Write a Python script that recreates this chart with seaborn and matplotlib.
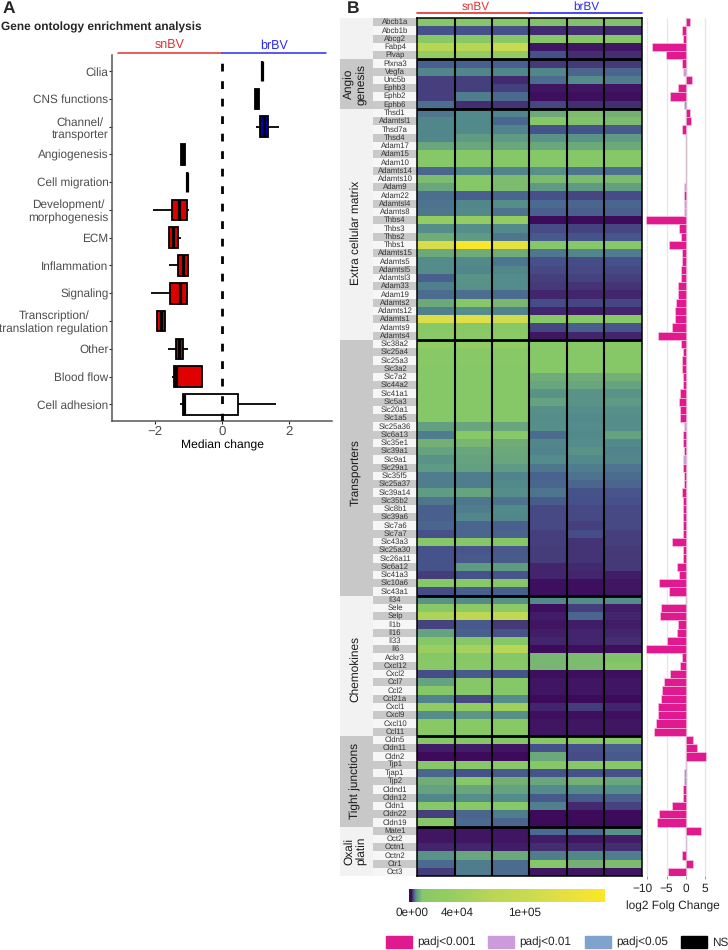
#!/usr/bin/env python3

from matplotlib.colors import LinearSegmentedColormap
from matplotlib.patches import Patch
from matplotlib.transforms import ScaledTranslation
import matplotlib
matplotlib.use('Agg')
import matplotlib.pyplot as plt
import pandas as pd
import seaborn as sns

WIDTH, HEIGHT = 728, 950

# Panel A: median change per ontology term
TERMS = ['Cilia', 'CNS functions', 'Channel/\ntransporter', 'Angiogenesis', 'Cell migration',
         'Development/\nmorphogenesis', 'ECM', 'Inflammation', 'Signaling',
         'Transcription/\ntranslation regulation', 'Other', 'Blood flow', 'Cell adhesion']
WHISK_LO = [1.20, 1.00, 1.03, -1.24, -1.06, -2.07, -1.58, -1.60, -2.13, -1.95, -1.62, -1.50, -1.27]
Q1 = [1.20, 1.00, 1.13, -1.24, -1.06, -1.51, -1.58, -1.31, -1.55, -1.95, -1.37, -1.44, -1.18]
MEDIAN = [1.20, 1.06, 1.27, -1.18, -1.06, -1.28, -1.47, -1.17, -1.27, -1.83, -1.28, -1.39, -1.14]
Q3 = [1.20, 1.12, 1.38, -1.12, -1.06, -1.05, -1.31, -1.03, -1.05, -1.72, -1.17, -0.60, 0.48]
WHISK_HI = [1.20, 1.12, 1.70, -1.12, -1.06, -1.00, -1.22, -1.00, -1.02, -1.72, -1.02, -0.60, 1.61]
BOX_COLORS = ['black', 'black', '#0000bb', 'black', 'black', '#dd0000', '#dd0000', '#dd0000',
              '#dd0000', '#dd0000', '#dd0000', '#e00000', 'white']

# Panel B: genes by group, expression (thousands) for snBV x3 then brBV x3, log2 fold change
GROUP_LABELS = ['', 'Angio\ngenesis', 'Extra cellular matrix', 'Transporters', 'Chemokines',
                'Tight junctions', 'Oxali\nplatin']
GROUP_LABEL_SHIFT = [0, 0, 1, 0.6, 0.4, 0, 0]

BASE_GENES = ['Abcb1a', 'Abcb1b', 'Abcg2', 'Fabp4', 'Plvap']
BASE_EXPR = [
    [9, 9, 9, 8.5, 8.5, 8.5], [1.5, 1.5, 1.5, 0.5, 0.6, 0.5], [12, 12, 12, 9, 9, 9],
    [70, 70, 100, 0.2, 0.2, 0.2], [30, 30, 30, 1.5, 0.6, 0.6],
]
BASE_LFC = [1.0, -0.9, -0.6, -8.7, -5.1]

ANGIO_GENES = ['Plxna3', 'Vegfa', 'Unc5b', 'Ephb3', 'Ephb2', 'Ephb6']
ANGIO_EXPR = [
    [2, 2, 2, 0.8, 0.8, 0.8], [3.3, 3.3, 3.3, 3.3, 2.2, 2.2], [1, 1, 0.5, 2.4, 3.5, 3],
    [1, 1, 1, 0.2, 0.2, 0.2], [1, 3, 2.3, 0.1, 0.1, 0.1], [2.5, 0.6, 0.7, 1.2, 0.6, 0.6],
]
ANGIO_LFC = [-1.0, -0.6, 1.6, -2.0, -4.1, -0.5]

ECM_GENES = ['Thsd1', 'Adamtsl1', 'Thsd7a', 'Thsd4', 'Adam17', 'Adam15', 'Adam10', 'Adamts14',
             'Adamts10', 'Adam9', 'Adam22', 'Adamtsl4', 'Adamts8', 'Thbs4', 'Thbs3', 'Thbs2',
             'Thbs1', 'Adamts15', 'Adamts5', 'Adamtsl5', 'Adamtsl3', 'Adam33', 'Adam19',
             'Adamts2', 'Adamts12', 'Adamts1', 'Adamts9', 'Adamts4']
ECM_EXPR = [
    [2.8, 3.4, 3.2, 6, 8, 7], [3.3, 3.4, 2.2, 9, 8.5, 8], [3.3, 3.4, 3.2, 1.6, 1.6, 1.8],
    [3.3, 4.5, 4.5, 4, 4, 4.5], [5.5, 5.5, 5.5, 5.5, 6, 6], [9, 9, 9, 9, 9, 9],
    [9, 9, 9, 9, 9, 9], [2.2, 3.3, 3.2, 3.8, 2.6, 2.5], [8, 9, 8, 8, 8, 8],
    [5.5, 9, 8, 4.5, 4.5, 4.8], [2.5, 2, 2.2, 1.5, 1.2, 1.4], [2.6, 3.3, 3.6, 2.3, 2.2, 2.2],
    [2.8, 3.4, 2.6, 2, 2, 2], [30, 30, 30, 0.05, 0.05, 0.05], [3.6, 3.6, 3.4, 1.4, 1.1, 1.2],
    [6.5, 4.5, 2.8, 1.8, 1.6, 1.7], [120, 165, 140, 9, 9, 9], [6, 6.5, 6.5, 2.8, 3.3, 3],
    [3.5, 3.4, 2.7, 1.5, 1.4, 1.5], [3.5, 3.3, 3.3, 1.3, 1.3, 1.3], [2, 4, 3.5, 1, 1.1, 1],
    [3.1, 3.9, 3.5, 0.8, 0.7, 0.7], [2.4, 2.5, 2.4, 0.4, 0.4, 0.4], [6, 9, 7.5, 1.4, 1.2, 1.2],
    [3.1, 3.6, 3.2, 0.4, 0.3, 0.4], [125, 130, 110, 10, 10, 10], [10, 10, 10, 1.2, 2, 1.7],
    [15, 15, 20, 0.2, 0.4, 0.4],
]
ECM_LFC = [1.0, 1.3, -0.9, 0, 0, 0, 0, 0, 0, -0.4, -0.4, -0.4, -0.4, -10.3, -1.7, -1.2, -4.3,
           -0.95, -1.05, -1.3, -1.3, -1.9, -2.0, -2.5, -2.7, -2.9, -3.6, -7.2]

SLC_GENES = ['Slc38a2', 'Slc25a4', 'Slc25a3', 'Slc3a2', 'Slc7a2', 'Slc44a2', 'Slc41a1', 'Slc5a3',
             'Slc20a1', 'Slc1a5', 'Slc25a36', 'Slc6a13', 'Slc35e1', 'Slc39a1', 'Slc9a1', 'Slc29a1',
             'Slc35f5', 'Slc25a37', 'Slc39a14', 'Slc35b2', 'Slc8b1', 'Slc39a6', 'Slc7a6', 'Slc7a7',
             'Slc43a3', 'Slc25a30', 'Slc26a11', 'Slc6a12', 'Slc41a3', 'Slc10a6', 'Slc43a1']
SLC_EXPR = [
    [22, 26, 24, 10, 10, 10], [12, 12, 12, 9, 9, 9], [12, 12, 12, 9, 9, 9], [9, 9, 9, 9, 9, 9],
    [9, 9, 9, 6.5, 6.5, 7], [9, 9, 9, 5.5, 5.5, 5], [9, 9, 9, 4, 4, 4], [9, 9, 9, 5, 4, 4.5],
    [9, 9, 9, 3.8, 3.6, 3.8], [9, 9, 9, 3.6, 3.4, 3.6], [4.8, 5.5, 5.5, 3.7, 3.5, 3.6],
    [3, 10, 10, 2.4, 3.4, 5], [7, 7.5, 6.5, 3.3, 3.5, 3.4], [5, 5.5, 6, 3.2, 4, 3.2],
    [4, 5, 5.5, 3.5, 3.4, 3.3], [4.5, 4.8, 4.5, 2.8, 3, 2.7], [3, 3, 3.2, 2.1, 2.6, 2.4],
    [3, 3, 3.4, 2.2, 2.2, 2.2], [4.6, 5.2, 3.6, 2.7, 1.6, 1.7], [2.8, 2.8, 2.6, 1.9, 1.5, 1.5],
    [2, 3, 3.4, 1.3, 1.3, 1.3], [2, 3.3, 3.3, 1.3, 1.3, 1.3], [2.2, 2.2, 2, 1.3, 1, 1.3],
    [1.5, 2.2, 2.1, 1, 1.4, 1], [9, 9, 9, 1, 0.7, 1], [1.6, 1.7, 1.8, 0.9, 0.7, 0.8],
    [1.6, 1.8, 1.9, 0.9, 0.7, 0.8], [1.6, 4.5, 4.5, 0.4, 0.5, 0.8], [0.9, 1.6, 1.7, 0.4, 0.4, 0.3],
    [9, 10, 9, 0.1, 0.1, 0.2], [1.4, 2, 2, 0.1, 0.1, 0.2],
]
SLC_LFC = [-1.1, -0.7, -1.0, -1.05, -0.7, -0.8, -1.4, -1.8, -1.5, -1.4, -0.45, -0.8, -0.8, -0.5,
           -0.6, -0.7, -0.35, -0.35, -0.9, -0.6, -0.7, -0.8, -0.6, -0.6, -3.6, -0.6, -0.6, -2.3,
           -1.8, -6.9, -4.3]

CHEMO_GENES = ['Il34', 'Sele', 'Selp', 'Il1b', 'Il16', 'Il33', 'Il6', 'Ackr3', 'Cxcl12', 'Cxcl2',
               'Ccl7', 'Ccl2', 'Ccl21a', 'Cxcl1', 'Cxcl9', 'Cxcl10', 'Ccl11']
CHEMO_EXPR = [
    [4, 3.5, 4, 3.4, 3.6, 3.6], [12, 20, 20, 0.1, 1, 0.3], [60, 80, 85, 0.3, 2.2, 0.4],
    [1.1, 1.8, 0.8, 0.2, 0.3, 0.3], [5, 2, 1.6, 0.3, 0.4, 0.4], [9, 9, 9, 0.4, 0.4, 0.6],
    [40, 50, 70, 0.05, 0.1, 0.1], [9, 9, 9, 7.5, 8, 8.5], [12, 12, 12, 7.5, 8, 9],
    [1.4, 1.8, 1.6, 0.1, 0.1, 0.1], [5, 9, 9, 0.2, 0.2, 0.2], [9, 9, 9, 0.2, 0.2, 0.2],
    [3.2, 1.3, 3.6, 0.05, 0.08, 0.05], [25, 25, 45, 0.4, 0.9, 0.4], [3.6, 4.2, 3.8, 0.1, 0.1, 0.1],
    [12, 12, 12, 0.2, 0.2, 0.2], [12, 12, 12, 0.2, 0.2, 0.2],
]
CHEMO_LFC = [0, -6.4, -6.7, -1.9, -2.2, -4.8, -10.3, -1.0, -1.5, -4.2, -5.7, -6.3, -6.4, -7.1,
             -7.2, -7.7, -8.3]

TIGHT_GENES = ['Cldn5', 'Cldn11', 'Cldn2', 'Tjp1', 'Tjap1', 'Tjp2', 'Cldnd1', 'Cldn12', 'Cldn1',
               'Cldn22', 'Cldn19']
TIGHT_EXPR = [
    [9, 9, 9, 10, 12, 11], [0.3, 0.3, 0.2, 1.5, 1.5, 2], [0.05, 0.05, 0.05, 6, 1.4, 1.8],
    [9, 10, 10, 9, 9, 9], [2.2, 1.6, 1.8, 1.6, 1.5, 1.5], [6.5, 9, 7, 5.5, 7, 5.5],
    [5, 5.5, 5, 3.5, 3.5, 3.7], [3.3, 3.7, 3.5, 1.8, 1.9, 2], [9, 12, 10, 3.1, 0.5, 1.1],
    [1, 2.2, 3, 0.05, 0.05, 0.05], [9, 2.3, 2.2, 0.05, 0.05, 0.05],
]
TIGHT_LFC = [1.9, 2.9, 5.3, 0, -0.35, -0.35, -0.6, -0.7, -3.7, -6.9, -7.5]

OXALI_GENES = ['Mate1', 'Oct2', 'Octn1', 'Octn2', 'Ctr1', 'Oct3']
OXALI_EXPR = [
    [0.2, 0.2, 0.2, 2.3, 2.3, 4], [0.2, 0.2, 0.2, 0.3, 0.2, 0.3], [0.4, 0.4, 0.3, 0.6, 0.5, 0.6],
    [4, 5.5, 6, 3, 3.3, 3], [2.3, 3, 2.4, 9, 7, 8], [0.9, 3, 2.4, 0.2, 0.2, 0.2],
]
OXALI_LFC = [4.0, 0, 0.2, -0.85, 1.8, -4.5]

# Significance classes, everything not listed here is padj<0.001
PADJ_01_GENES = ['Vegfa', 'Adam9', 'Adamtsl4', 'Adamts8', 'Slc25a36', 'Slc9a1']
PADJ_05_GENES = ['Ephb6', 'Tjap1', 'Tjp2']
NS_GENES = ['Thsd4', 'Adam17', 'Adam15', 'Adam10', 'Adamts14', 'Adamts10', 'Il34', 'Tjp1', 'Oct2', 'Octn1']
SIG_COLORS = {'padj<0.001': '#e0198f', 'padj<0.01': '#cb9bdb', 'padj<0.05': '#7fa3cc', 'NS': 'black'}

# Colour scale, value in thousands against colour
SCALE_VALUES = [-2.4, 0.05, 0.3, 0.8, 1.5, 2.5, 3.5, 5, 7, 9, 40, 70, 100, 130, 171]
SCALE_COLORS = ['#3d0a5c', '#3d0a5c', '#42206a', '#453a78', '#46508a', '#4c7090', '#538c8a', '#65a280',
                '#74b074', '#86c867', '#9bce60', '#b8d655', '#c8da50', '#e0df45', '#fde725']

RED = '#e03030'
BLUE = '#2a2af0'
GREY_TEXT = '#4d4d4d'


def add_axes_px(fig, left, top, right, bottom):
    return fig.add_axes([left / WIDTH, 1 - bottom / HEIGHT, (right - left) / WIDTH, (bottom - top) / HEIGHT])


def fig_text(fig, x, y, text, **kwargs):
    fig.text(x / WIDTH, 1 - y / HEIGHT, text, **kwargs)


def draw_boxes(fig):
    ax = add_axes_px(fig, 112, 55, 332, 421)
    df = pd.DataFrame({'term': TERMS, 'lo': WHISK_LO, 'q1': Q1, 'med': MEDIAN, 'q3': Q3, 'hi': WHISK_HI})
    long_df = df.melt(id_vars='term', value_name='change')

    sns.boxplot(data=long_df, x='change', y='term', hue='term', order=TERMS, hue_order=TERMS,
                palette=BOX_COLORS, saturation=1, whis=(0, 100), width=0.74, linewidth=1.3,
                linecolor='black', showcaps=False, fliersize=0, legend=False,
                medianprops={'linewidth': 2.3}, ax=ax)
    ax.axvline(0, color='black', linewidth=2, linestyle=(0, (2.8, 3.5)), zorder=5)

    ax.set(xlim=(-3.3, 3.3), ylim=(12.6, -0.58), xticks=[-2, 0, 2], ylabel=None)
    ax.set_xlabel('Median change', fontsize=8.7, color='black', labelpad=1)
    ax.tick_params(axis='x', labelsize=9.5, labelcolor=GREY_TEXT, length=2, width=0.8, pad=1.5, bottom=True)
    ax.tick_params(axis='y', labelsize=8.5, labelcolor=GREY_TEXT, length=2, width=0.8, pad=0.5, left=True)
    for label in ax.get_yticklabels():
        label.set_multialignment('center')
        label.set_linespacing(1.2)
    sns.despine(ax=ax)
    for side in ['left', 'bottom']:
        ax.spines[side].set_color('#555555')
        ax.spines[side].set_linewidth(1.1)

    fig.add_artist(plt.Line2D([118 / WIDTH, 222 / WIDTH], [1 - 52.5 / HEIGHT] * 2, color=RED, linewidth=1.1))
    fig.add_artist(plt.Line2D([222 / WIDTH, 326 / WIDTH], [1 - 52.5 / HEIGHT] * 2, color=BLUE, linewidth=1.1))
    fig_text(fig, 170, 46, 'snBV', color=RED, fontsize=9, ha='center', va='center')
    fig_text(fig, 274, 46, 'brBV', color=BLUE, fontsize=9, ha='center', va='center')
    fig_text(fig, 1, 27, 'Gene ontology enrichment analysis', fontsize=8.6, fontweight='bold', va='center')
    fig_text(fig, 3, 9, 'A', fontsize=12.5, fontweight='bold', va='center')


def draw_strip(fig, genes, group_sizes):
    ax = add_axes_px(fig, 340, 18.2, 417, 876)
    ax.set(xlim=(0, 77), ylim=(len(genes), 0))
    ax.axis('off')
    gene_left = 33 / 77

    start = 0
    for i, (label, size) in enumerate(zip(GROUP_LABELS, group_sizes)):
        ax.axhspan(start, start + size, xmin=0, xmax=gene_left, color='#c8c8c8' if i % 2 else '#f2f2f2', linewidth=0)
        ax.text(15.5, start + size / 2 + GROUP_LABEL_SHIFT[i], label, rotation=90, ha='center', va='center',
                fontsize=8.6, color='#1a1a1a', linespacing=1.2)
        start += size

    for i, gene in enumerate(genes):
        ax.axhspan(i, i + 1, xmin=gene_left, xmax=1, color='#f6f6f6' if i % 2 else '#c9c9c9', linewidth=0)
        ax.text(55, i + 0.5, gene, ha='center', va='center', fontsize=5.6, color='#333333')


def draw_heatmap(fig, expr, genes, group_sizes):
    ax = add_axes_px(fig, 417.3, 18.2, 641.7, 876)
    cax = add_axes_px(fig, 409, 889, 605.3, 901.7)

    vmin, vmax = SCALE_VALUES[0] * 1000, SCALE_VALUES[-1] * 1000
    stops = [(v * 1000 - vmin) / (vmax - vmin) for v in SCALE_VALUES]
    cmap = LinearSegmentedColormap.from_list('expr', list(zip(stops, SCALE_COLORS)), N=4096)

    df = pd.DataFrame(expr, index=genes, columns=['sn1', 'sn2', 'sn3', 'br1', 'br2', 'br3']) * 1000
    sns.heatmap(df, cmap=cmap, vmin=vmin, vmax=vmax, xticklabels=False, yticklabels=False, ax=ax,
                cbar_ax=cax, cbar_kws={'orientation': 'horizontal', 'ticks': [0, 40000, 100000]})
    ax.set(xlabel=None, ylabel=None)

    ax.vlines(range(1, 6), 0, len(genes), color='black', linewidth=1.5)
    boundary = 0
    for size in group_sizes[:-1]:
        boundary += size
        ax.hlines(boundary, 0, 6, color='black', linewidth=2)
    for spine in ax.spines.values():
        spine.set_visible(True)
        spine.set_color('black')
        spine.set_linewidth(1.1)

    cbar = ax.collections[0].colorbar
    cbar.outline.set_visible(False)
    cbar.set_ticklabels(['0e+00', '4e+04', '1e+05'])
    cbar.ax.tick_params(labelsize=8.5, length=0, pad=4, labelcolor='#222222')

    fig.add_artist(plt.Line2D([417 / WIDTH, 529.5 / WIDTH], [1 - 12.7 / HEIGHT] * 2, color=RED, linewidth=1.2))
    fig.add_artist(plt.Line2D([529.5 / WIDTH, 642 / WIDTH], [1 - 12.7 / HEIGHT] * 2, color=BLUE, linewidth=1.2))
    fig_text(fig, 476, 6.5, 'snBV', color=RED, fontsize=8.5, ha='center', va='center')
    fig_text(fig, 586, 6.5, 'brBV', color=BLUE, fontsize=8.5, ha='center', va='center')
    fig_text(fig, 347, 9, 'B', fontsize=12.5, fontweight='bold', va='center')


def draw_bars(fig, genes, lfc):
    ax = add_axes_px(fig, 645, 18.2, 708, 876)
    sig = ['padj<0.01' if g in PADJ_01_GENES else 'padj<0.05' if g in PADJ_05_GENES
           else 'NS' if g in NS_GENES else 'padj<0.001' for g in genes]
    df = pd.DataFrame({'gene': genes, 'lfc': lfc, 'sig': sig})

    ax.set_axisbelow(True)
    ax.xaxis.grid(True, color='#e6e6e6', linewidth=0.9)
    ax.axvline(0, color='#b0b0b0', linewidth=1, zorder=1)
    sns.barplot(data=df, x='lfc', y='gene', hue='sig', order=genes, palette=SIG_COLORS, dodge=False,
                width=1, saturation=1, edgecolor='#f7d0e6', linewidth=0.4, legend=False, ax=ax, zorder=2)

    ax.set(xlim=(-10.6, 5.8), ylim=(len(genes) - 0.5, -0.5), xticks=[-10, -5, 0, 5], yticks=[], ylabel=None)
    ax.set_xlabel('log2 Folg Change', fontsize=8.6, color='#222222', labelpad=4.5, x=0.45)
    ax.tick_params(axis='x', labelsize=8.6, labelcolor='#222222', length=2, width=0.7, color='#999999', pad=3, bottom=True)
    # the -10 label sits a little left of its tick so it clears -5
    first = ax.get_xticklabels()[0]
    first.set_transform(first.get_transform() + ScaledTranslation(-3.5 / 72, 0, fig.dpi_scale_trans))
    sns.despine(ax=ax, left=True, bottom=True)


def main():
    sns.set_theme(style='white')
    plt.rcParams['font.family'] = ['Liberation Sans', 'DejaVu Sans']
    plt.rcParams['text.hinting'] = 'no_hinting'

    fig = plt.figure(figsize=(WIDTH / 100, HEIGHT / 100), dpi=100)

    gene_groups = [BASE_GENES, ANGIO_GENES, ECM_GENES, SLC_GENES, CHEMO_GENES, TIGHT_GENES, OXALI_GENES]
    group_sizes = [len(group) for group in gene_groups]
    genes = sum(gene_groups, [])
    expr = BASE_EXPR + ANGIO_EXPR + ECM_EXPR + SLC_EXPR + CHEMO_EXPR + TIGHT_EXPR + OXALI_EXPR
    lfc = BASE_LFC + ANGIO_LFC + ECM_LFC + SLC_LFC + CHEMO_LFC + TIGHT_LFC + OXALI_LFC

    draw_boxes(fig)
    draw_strip(fig, genes, group_sizes)
    draw_heatmap(fig, expr, genes, group_sizes)
    draw_bars(fig, genes, lfc)

    handles = [Patch(color=color, label=label) for label, color in SIG_COLORS.items()]
    fig.legend(handles=handles, ncol=4, loc='center', bbox_to_anchor=(557 / WIDTH, 1 - 942 / HEIGHT),
               frameon=False, fontsize=8.5, borderpad=0, borderaxespad=0, handlelength=2.2,
               handleheight=1.2, handletextpad=0.45, columnspacing=1.1)

    plt.savefig('out.png', dpi=100)


if __name__ == '__main__':
    main()
